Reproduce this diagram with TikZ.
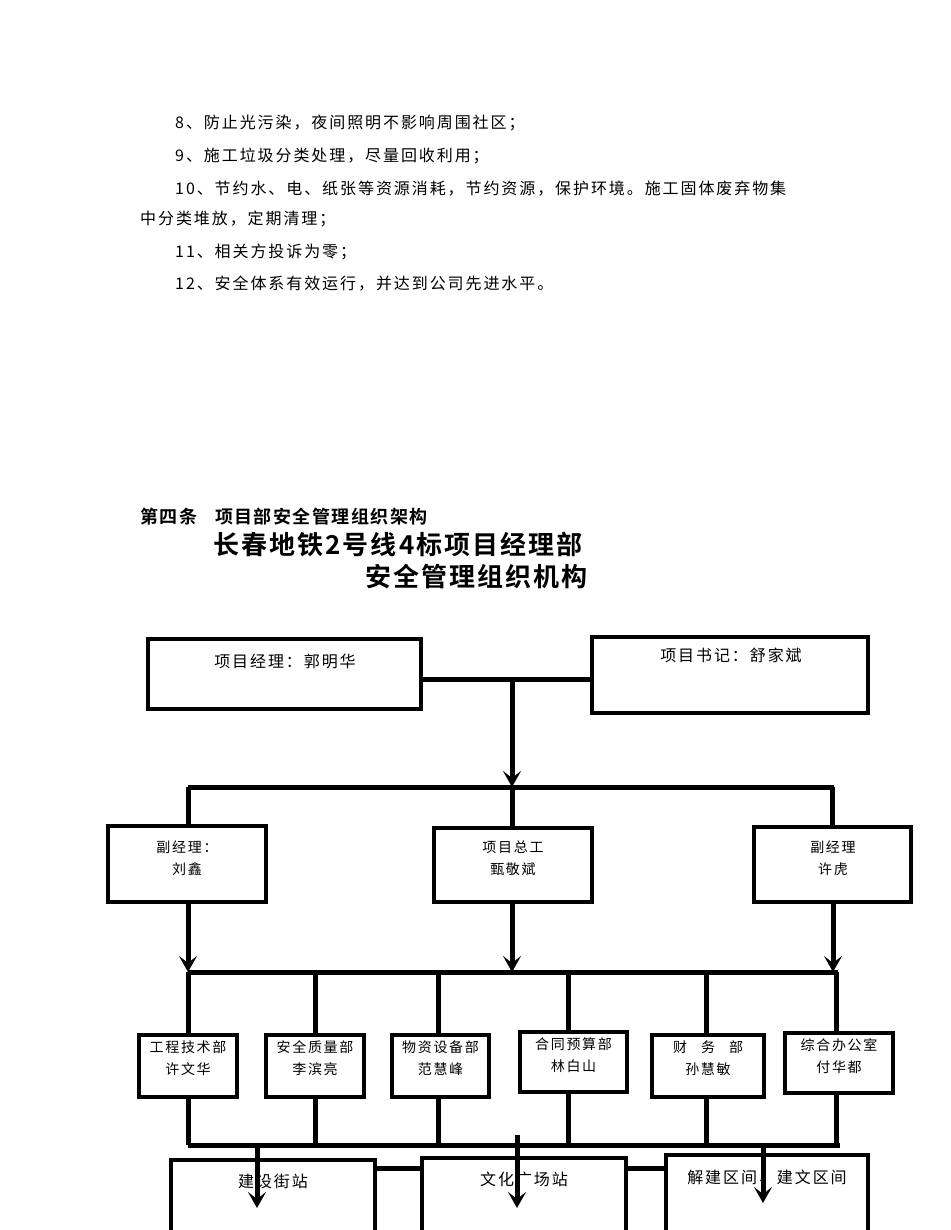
\documentclass[tikz,border=0pt]{standalone}
\usepackage{fontspec}
\setmainfont{Noto Sans CJK SC}[LetterSpace=12]
\newfontfamily\cjkb{Noto Sans CJK SC Bold}[LetterSpace=8]
\usetikzlibrary{arrows.meta}
\begin{document}
\begin{tikzpicture}[x=1pt,y=-1pt,
  box/.style={draw,line width=4pt},
  conn/.style={line width=5pt},
  arr/.style={line width=5pt,-{Stealth[length=16pt,width=18pt,inset=7pt]}},
  body/.style={anchor=west,font=\fontsize{16}{18}\selectfont,inner sep=0},
  lbl/.style={font=\fontsize{16}{18}\selectfont,inner sep=0},
  sl/.style={font=\fontsize{14}{22}\selectfont,align=center,inner sep=0}]
\useasboundingbox (0,0) rectangle (950,1230);
% text
\node[body] (t1) at (175,123) {8、防止光污染，夜间照明不影响周围社区；};
\node[body] (t2) at (175,156) {9、施工垃圾分类处理，尽量回收利用；};
\node[body] (t3) at (175,189) {10、节约水、电、纸张等资源消耗，节约资源，保护环境。施工固体废弃物集};
\node[body] (t4) at (140,219) {中分类堆放，定期清理；};
\node[body] (t5) at (175,252) {11、相关方投诉为零；};
\node[body] (t6) at (175,284) {12、安全体系有效运行，并达到公司先进水平。};
\node[body,font=\cjkb\fontsize{18}{20}\selectfont] (h) at (140,517) {第四条\hspace{1em}项目部安全管理组织架构};
\node[anchor=west,inner sep=0,font=\cjkb\fontsize{26}{28}\selectfont] (ti1) at (213,545) {长春地铁2号线4标项目经理部};
\node[anchor=west,inner sep=0,font=\cjkb\fontsize{26}{28}\selectfont] (ti2) at (365,577) {安全管理组织机构};
% top boxes
\draw[box] (148,639) rectangle (421,709); \node[lbl] (pm) at (285,661) {项目经理：郭明华};
\draw[box] (592,637) rectangle (868,713); \node[lbl] (sj) at (731,655) {项目书记：舒家斌};
\coordinate (pmR) at (421,679); \coordinate (sjL) at (592,679);
\draw[conn] (pmR) -- (sjL);
\coordinate (j1) at (512,679); \coordinate (j1b) at (512,787);
\draw[arr] (j1) -- (j1b);
\draw[conn] (188,787) -- (834,787);
\foreach \x/\yy in {188/828,512/830,832/829} \draw[conn] (\x,787) -- (\x,\yy);
% second level
\draw[box] (108,826) rectangle (266,902); \node[sl] (d1) at (187,858) {副经理：\\刘鑫};
\draw[box] (434,828) rectangle (592,902); \node[sl] (d2) at (513,858) {项目总工\\甄敬斌};
\draw[box] (754,827) rectangle (911,902); \node[sl] (d3) at (833,858) {副经理\\许虎};
\foreach \x in {188,512,833} \draw[arr] (\x,902) -- (\x,972);
\draw[conn] (188,972) -- (838,972);
% departments
\foreach \xa/\xb/\ya/\yb/\t/\n [count=\i] in {
 139/237/1035/1097/工程技术部/许文华,
 266/364/1035/1097/安全质量部/李滨亮,
 392/489/1035/1097/物资设备部/范慧峰,
 520/627/1032/1092/合同预算部/林白山,
 652/764/1035/1097/{财\hspace{1em}务\hspace{1em}部}/孙慧敏,
 785/893/1033/1093/综合办公室/付华都}{
 \draw[box] (\xa,\ya) rectangle (\xb,\yb);
 \node[sl] (dep\i) at ({(\xa+\xb)/2},{\ya+23}) {\t\\\n};
}
\foreach \x/\ya/\yb in {188/1035/1097,315/1035/1097,438/1035/1097,568/1032/1092,706/1035/1097,836/1033/1093}{
 \draw[conn] (\x,972) -- (\x,\ya);
 \draw[conn] (\x,\yb) -- (\x,1145);
}
\draw[conn] (188,1145) -- (840,1145);
% bottom
\draw[box] (171,1160) rectangle (375,1240); \node[lbl] (b1) at (273,1181) {建设街站};
\draw[box] (422,1158) rectangle (626,1240); \node[lbl] (b2) at (524,1179) {文化广场站};
\draw[box] (666,1155) rectangle (868,1240); \node[lbl] (b3) at (767,1177) {解建区间、建文区间};
\draw[conn] (375,1168) -- (422,1168);
\draw[conn] (626,1168) -- (666,1168);
\draw[arr] (257,1145) -- (257,1208);
\draw[arr] (517,1135) -- (517,1208);
\draw[arr] (763,1145) -- (763,1203);
\end{tikzpicture}
\end{document}
